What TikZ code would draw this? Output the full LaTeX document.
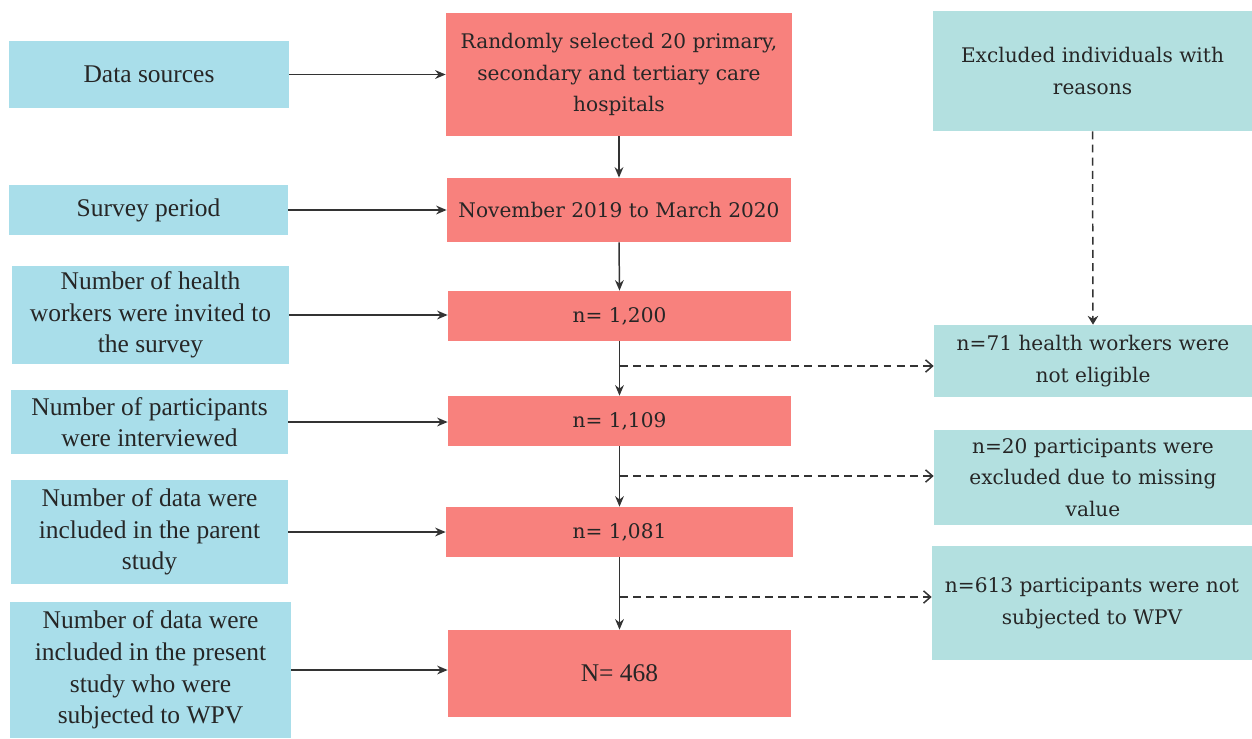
\documentclass[tikz,border=0pt]{standalone}
\usepackage{fontspec}
\setmainfont{DejaVu Serif}
\newfontfamily\leftfont{Liberation Serif}
\usetikzlibrary{arrows.meta}
\definecolor{lblue}{HTML}{A9DEEA}
\definecolor{salmon}{HTML}{F8817D}
\definecolor{tealbox}{HTML}{B3E0E0}
\definecolor{ink}{HTML}{333333}
\begin{document}
\begin{tikzpicture}[x=0.02cm,y=-0.02cm,
  box/.style={inner sep=0pt, align=center, font=\fontsize{11.45}{18}\selectfont, text=black!85},
  lbox/.style={box, fill=lblue, font=\leftfont\fontsize{14.5}{18}\selectfont},
  cbox/.style={box, fill=salmon},
  rbox/.style={box, fill=tealbox},
  solidarrow/.style={draw=ink, line width=0.85pt, -{Stealth[length=6pt,width=5pt]}},
  dasharrow/.style={draw=ink, line width=0.85pt, dash pattern=on 4.5pt off 3pt, -{Straight Barb[length=4pt,width=7pt]}},
  dashdown/.style={draw=ink, line width=0.85pt, dash pattern=on 4.5pt off 3pt, -{Stealth[length=5pt,width=6pt]}}]
\useasboundingbox (0,0) rectangle (1252,738);
% left column
\node[lbox, minimum width=5.6cm, minimum height=1.34cm] (L1) at (149,74.5) {Data sources};
\node[lbox, minimum width=5.58cm, minimum height=1.0cm] (L2) at (148.5,210) {Survey period};
\node[lbox, minimum width=5.54cm, minimum height=1.96cm] (L3) at (150.5,315) {Number of health\\workers were invited to\\the survey};
\node[lbox, minimum width=5.54cm, minimum height=1.28cm] (L4) at (149.5,422) {Number of participants\\were interviewed};
\node[lbox, minimum width=5.54cm, minimum height=2.08cm] (L5) at (149.5,532) {Number of data were\\included in the parent\\study};
\node[lbox, minimum width=5.62cm, minimum height=2.72cm] (L6) at (150.5,670) {Number of data were\\included in the present\\study who were\\subjected to WPV};
% centre column
\node[cbox, minimum width=6.92cm, minimum height=2.46cm] (C1) at (619,74.5) {Randomly selected 20 primary,\\secondary and tertiary care\\hospitals};
\node[cbox, minimum width=6.88cm, minimum height=1.28cm] (C2) at (619,210) {November 2019 to March 2020};
\node[cbox, minimum width=6.86cm, minimum height=1.0cm] (C3) at (619.5,316) {n= 1,200};
\node[cbox, minimum width=6.86cm, minimum height=1.0cm] (C4) at (619.5,421) {n= 1,109};
\node[cbox, minimum width=6.94cm, minimum height=1.0cm] (C5) at (619.5,532) {n= 1,081};
\node[cbox, minimum width=6.86cm, minimum height=1.74cm, font=\leftfont\fontsize{14.5}{18}\selectfont] (C6) at (619.5,673.5) {N= 468};
% right column
\node[rbox, minimum width=6.38cm, minimum height=2.4cm] (R1) at (1092.5,71) {Excluded individuals with\\reasons};
\node[rbox, minimum width=6.36cm, minimum height=1.44cm] (R2) at (1093,361) {n=71 health workers were\\not eligible};
\node[rbox, minimum width=6.36cm, minimum height=1.9cm] (R3) at (1093,477.5) {n=20 participants were\\excluded due to missing\\value};
\node[rbox, minimum width=6.4cm, minimum height=2.28cm] (R4) at (1092,603) {n=613 participants were not\\subjected to WPV};
% horizontal arrows
\foreach \i in {1,...,6}{
  \draw[solidarrow] (L\i.east) -- (L\i.east -| C\i.west);
}
% vertical arrows
\draw[solidarrow] (C1.south) -- (C2.north);
\draw[solidarrow] (C2.south) -- (C3.north);
\draw[solidarrow] (C3.south) -- (C4.north);
\draw[solidarrow] (C4.south) -- (C5.north);
\draw[solidarrow] (C5.south) -- (C6.north);
% dashed exclusions
\coordinate (d1) at (620,366);
\coordinate (d2) at (620,476);
\coordinate (d3) at (620,597);
\draw[dasharrow] (d1) -- (d1 -| R2.west);
\draw[dasharrow] (d2) -- (d2 -| R3.west);
\draw[dasharrow] (d3) -- (d3 -| R4.west);
\draw[dashdown] (R1.south) -- (R2.north);
\end{tikzpicture}
\end{document}
